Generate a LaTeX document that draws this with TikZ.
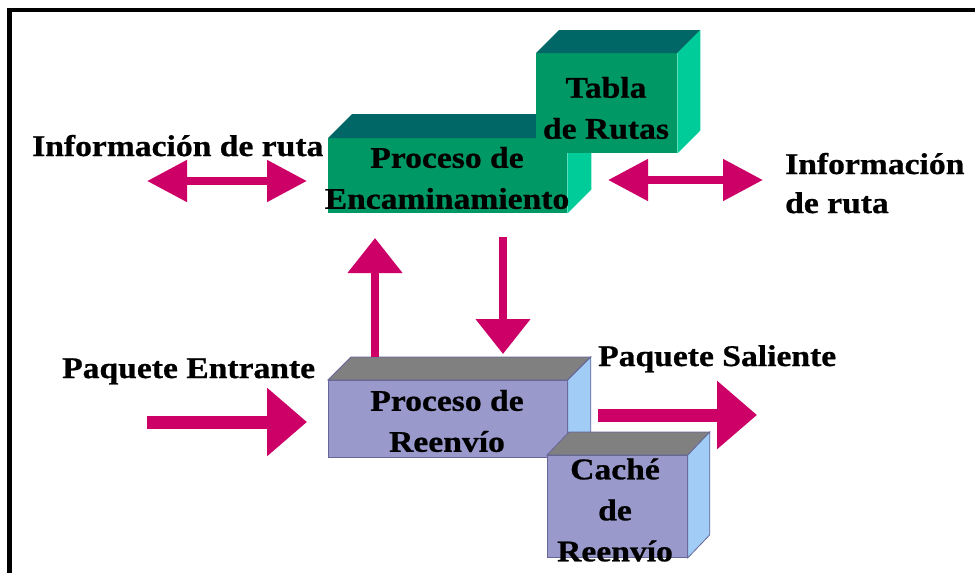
\documentclass[tikz,border=0pt]{standalone}
\usepackage{fontspec}
\setmainfont{Liberation Serif}[FakeStretch=1.12,FakeBold=0.8]
\usetikzlibrary{arrows.meta,calc}
\definecolor{arr}{RGB}{204,0,102}
\definecolor{gfront}{RGB}{0,153,102}
\definecolor{gtop}{RGB}{0,102,102}
\definecolor{gside}{RGB}{0,204,153}
\definecolor{pfront}{RGB}{153,153,204}
\definecolor{ptop}{RGB}{128,128,128}
\definecolor{pside}{RGB}{160,204,245}
\definecolor{pline}{RGB}{102,102,153}
\begin{document}
\begin{tikzpicture}[x=1pt,y=-1pt,
  lbl/.style={font=\fontsize{30}{41}\selectfont\bfseries, inner sep=0pt, align=center},
  tlbl/.style={font=\fontsize{30}{39}\selectfont\bfseries, inner sep=0pt, align=left, anchor=base west},
  frontbox/.style={rectangle, inner sep=0pt, anchor=north west, draw=none},
  dblarrow/.style={draw=arr, line width=8pt, {Triangle[length=40pt,width=40pt]}-{Triangle[length=40pt,width=40pt]}},
  vertarrow/.style={draw=arr, line width=8pt, -{Triangle[length=35pt,width=53pt]}},
  bigarrow/.style={draw=arr, line width=13pt, -{Triangle[length=40pt,width=66pt]}}]
\useasboundingbox (0,0) rectangle (975,573);
\fill[white] (0,0) rectangle (975,573);
% frame
\draw[line width=4.5pt] (9.5,573) -- (9.5,10) -- (975,10);

% Proceso de Encaminamiento box
\node[frontbox, fill=gfront, minimum width=239pt, minimum height=75pt] (enc) at (328,138) {};
\fill[gtop] (enc.north west) -- ++(24,-24) -- ($(enc.north east)+(24,-24)$) -- (enc.north east) -- cycle;
\fill[gside] (enc.north east) -- ++(24,-24) -- ($(enc.south east)+(24,-24)$) -- (enc.south east) -- cycle;
\node[lbl] (encT) at (447,178) {Proceso de\\Encaminamiento};

% Tabla de Rutas box
\node[frontbox, fill=gfront, minimum width=141pt, minimum height=100pt] (tab) at (536,53) {};
\fill[gtop] (tab.north west) -- ++(23,-23) -- ($(tab.north east)+(23,-23)$) -- (tab.north east) -- cycle;
\fill[gside] (tab.north east) -- ++(23,-23) -- ($(tab.south east)+(23,-23)$) -- (tab.south east) -- cycle;
\node[lbl] (tabT) at (606,108) {Tabla\\de Rutas};

% Proceso de Reenvio box
\node[frontbox, fill=pfront, draw=pline, line width=0.8pt, minimum width=239pt, minimum height=77pt] (reen) at (328,380) {};
\filldraw[fill=ptop, draw=pline, line width=0.8pt] (reen.north west) -- ++(23,-23) -- ($(reen.north east)+(23,-23)$) -- (reen.north east) -- cycle;
\filldraw[fill=pside, draw=pline, line width=0.8pt] (reen.north east) -- ++(23,-23) -- ($(reen.south east)+(23,-23)$) -- (reen.south east) -- cycle;
\node[lbl] (reenT) at (447,421) {Proceso de\\Reenvío};

% Cache de Reenvio box
\node[frontbox, fill=pfront, draw=pline, line width=0.8pt, minimum width=140pt, minimum height=102pt] (cache) at (547,455) {};
\filldraw[fill=ptop, draw=pline, line width=0.8pt] (cache.north west) -- ++(22,-23) -- ($(cache.north east)+(22,-23)$) -- (cache.north east) -- cycle;
\filldraw[fill=pside, draw=pline, line width=0.8pt] (cache.north east) -- ++(22,-23) -- ($(cache.south east)+(22,-23)$) -- (cache.south east) -- cycle;
\node[lbl] (cacheT) at (615,510) {Caché\\de\\Reenvío};

% outside labels
\node[tlbl] (infoL) at (32,156) {Información de ruta};
\node[tlbl] (infoR) at (785,213) {Información\\de ruta};
\node[tlbl] (pin) at (62,378) {Paquete Entrante};
\node[tlbl] (pout) at (598,366) {Paquete Saliente};

% arrow end points
\coordinate (la1) at (147,181);
\coordinate (la2) at (307,181);
\coordinate (ra1) at (608,180);
\coordinate (ra2) at (763,180);
\coordinate (upS) at (375,357);
\coordinate (upE) at (375,238);
\coordinate (dnS) at (503,237);
\coordinate (dnE) at (503,354);
\coordinate (inS) at (147,422);
\coordinate (inE) at (307,422);
\coordinate (outS) at (598,415);
\coordinate (outE) at (757,415);

\draw[dblarrow] (la1) -- (la2);
\draw[dblarrow] (ra1) -- (ra2);
\draw[vertarrow] (upS) -- (upE);
\draw[vertarrow] (dnS) -- (dnE);
\draw[bigarrow] (inS) -- (inE);
\draw[bigarrow] (outS) -- (outE);
\end{tikzpicture}
\end{document}
